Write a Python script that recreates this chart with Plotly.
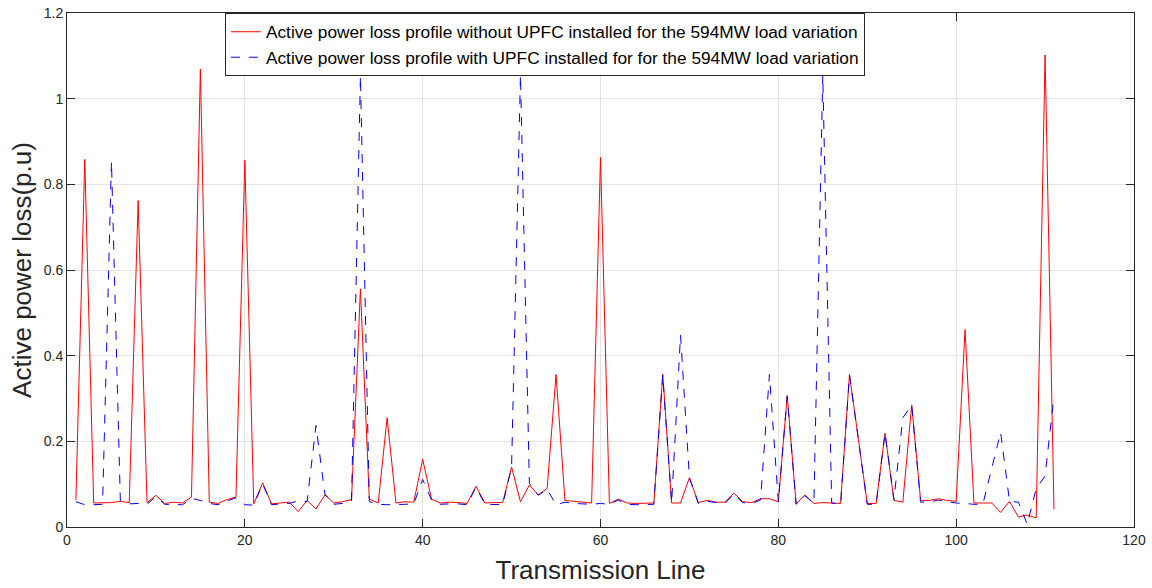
import plotly.graph_objects as go

lines = list(range(1, 112))

loss_without_upfc = [
    0.063, 0.858, 0.056, 0.057, 0.057, 0.060, 0.057, 0.762, 0.057, 0.074,
    0.055, 0.058, 0.056, 0.070, 1.069, 0.058, 0.055, 0.064, 0.070, 0.856,
    0.054, 0.103, 0.054, 0.056, 0.058, 0.036, 0.062, 0.042, 0.075, 0.056,
    0.059, 0.064, 0.556, 0.065, 0.056, 0.255, 0.056, 0.059, 0.058, 0.158,
    0.065, 0.056, 0.058, 0.057, 0.055, 0.095, 0.056, 0.057, 0.057, 0.140,
    0.059, 0.098, 0.075, 0.090, 0.356, 0.062, 0.060, 0.058, 0.056, 0.863,
    0.055, 0.065, 0.056, 0.055, 0.055, 0.056, 0.357, 0.056, 0.056, 0.115,
    0.057, 0.062, 0.058, 0.058, 0.079, 0.059, 0.057, 0.066, 0.066, 0.059,
    0.307, 0.054, 0.075, 0.055, 0.057, 0.056, 0.055, 0.356, 0.205, 0.055,
    0.055, 0.219, 0.062, 0.058, 0.285, 0.062, 0.062, 0.066, 0.062, 0.060,
    0.461, 0.056, 0.056, 0.056, 0.034, 0.060, 0.023, 0.028, 0.021, 1.102,
    0.041,
]

loss_with_upfc = [
    0.059, 0.052, 0.052, 0.053, 0.854, 0.061, 0.054, 0.055, 0.053, 0.071,
    0.053, 0.053, 0.052, 0.067, 0.062, 0.055, 0.052, 0.061, 0.068, 0.052,
    0.051, 0.101, 0.052, 0.054, 0.055, 0.061, 0.059, 0.237, 0.077, 0.053,
    0.055, 0.061, 1.054, 0.059, 0.053, 0.052, 0.052, 0.053, 0.054, 0.111,
    0.063, 0.053, 0.054, 0.054, 0.052, 0.093, 0.053, 0.052, 0.052, 0.140,
    1.056, 0.102, 0.074, 0.088, 0.052, 0.058, 0.055, 0.054, 0.053, 0.055,
    0.053, 0.063, 0.053, 0.052, 0.052, 0.053, 0.355, 0.056, 0.448, 0.115,
    0.055, 0.060, 0.057, 0.055, 0.077, 0.057, 0.055, 0.063, 0.356, 0.059,
    0.305, 0.053, 0.073, 0.055, 1.055, 0.056, 0.053, 0.355, 0.205, 0.053,
    0.053, 0.219, 0.064, 0.255, 0.285, 0.058, 0.058, 0.063, 0.059, 0.056,
    0.055, 0.053, 0.053, 0.137, 0.221, 0.060, 0.058, 0.006, 0.090, 0.119,
    0.306,
]

x_ticks = [0, 20, 40, 60, 80, 100, 120]
y_ticks = [0, 0.2, 0.4, 0.6, 0.8, 1.0, 1.2]
y_tick_labels = ["0", "0.2", "0.4", "0.6", "0.8", "1", "1.2"]

name_without = "Active power loss profile without UPFC installed for the 594MW load variation"
name_with = "Active power loss profile with UPFC installed for for the 594MW load variation"

FONT = "Liberation Sans, Arial, sans-serif"

fig = go.Figure()
fig.add_trace(go.Scatter(
    x=lines, y=loss_without_upfc, mode="lines", name=name_without,
    line=dict(color="#ff0000", width=1),
))
fig.add_trace(go.Scatter(
    x=lines, y=loss_with_upfc, mode="lines", name=name_with,
    line=dict(color="#0000ff", width=1, dash="dash"),
))

axis_common = dict(
    showline=True, linecolor="#262626", linewidth=1, mirror="ticks",
    ticks="inside", ticklen=8, tickcolor="#262626",
    showgrid=True, gridcolor="#e3e3e3", gridwidth=1,
    zeroline=False, automargin=False,
    tickfont=dict(family=FONT, size=14, color="#262626"),
)

fig.update_layout(
    width=1152, height=588,
    margin=dict(l=67, r=18, t=13, b=61),
    paper_bgcolor="white", plot_bgcolor="white",
    font=dict(family=FONT, color="#262626"),
    showlegend=True,
    legend=dict(
        x=0.148, y=1.0, xanchor="left", yanchor="top",
        bgcolor="white", bordercolor="#262626", borderwidth=1,
        font=dict(family=FONT, size=17.3, color="#000000"),
        tracegroupgap=0,
    ),
    xaxis=dict(
        range=[0, 120], tickvals=x_ticks,
        title=dict(text="Transmission Line", font=dict(family=FONT, size=26, color="#262626"), standoff=14),
        **axis_common,
    ),
    yaxis=dict(
        range=[0, 1.2], tickvals=y_ticks, ticktext=y_tick_labels,
        title=dict(text="Active power loss(p.u)", font=dict(family=FONT, size=26, color="#262626"), standoff=4),
        **axis_common,
    ),
)

fig.write_html("out.html")
